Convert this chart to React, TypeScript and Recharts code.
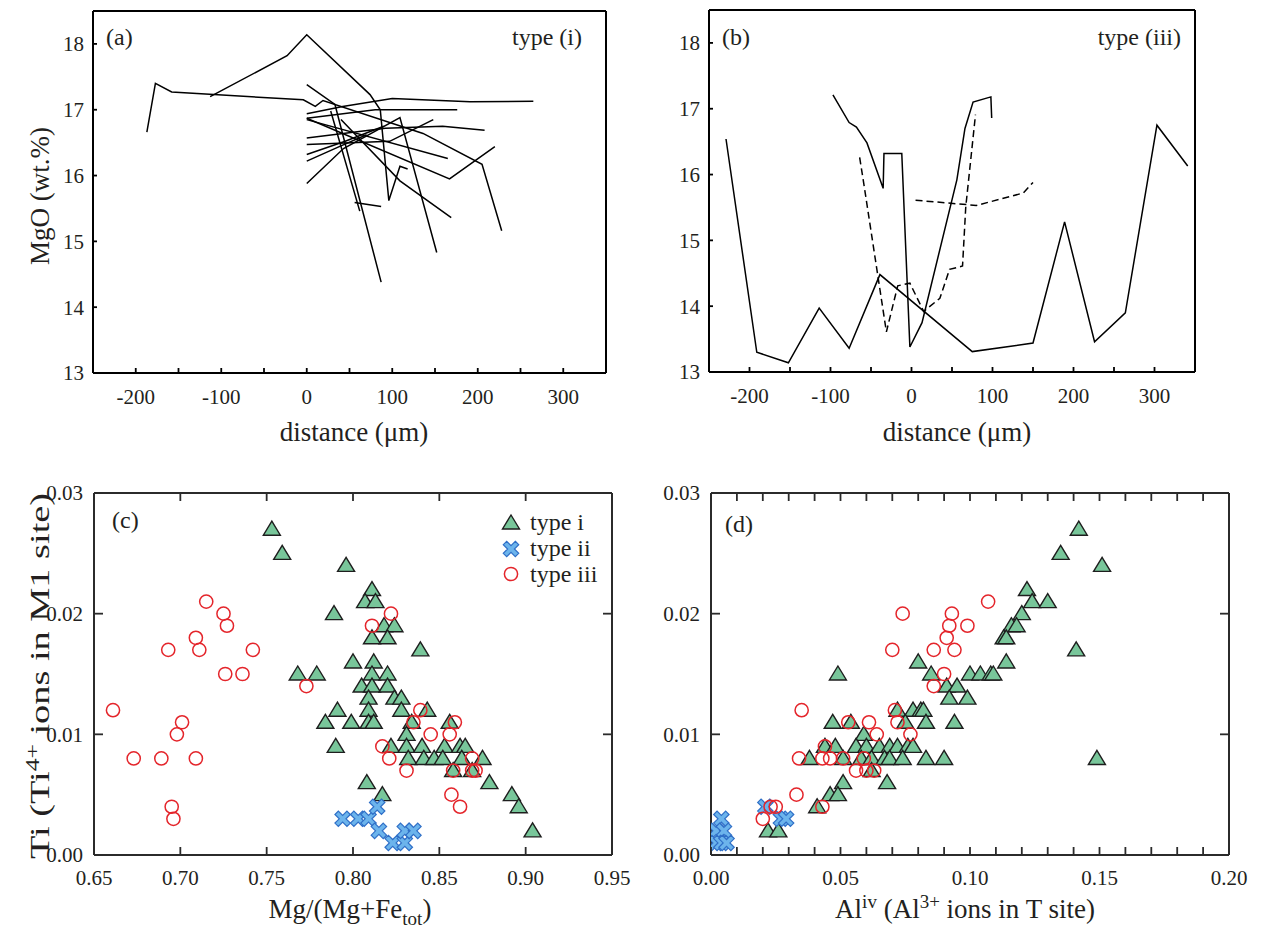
import React from 'react';
import { LineChart, Line, ScatterChart, Scatter, XAxis, YAxis } from 'recharts';

const FONT = '"Liberation Serif", "Times New Roman", Times, serif';
const INK = '#231f20';
const EDGE = '#2b2b2b';
const GREEN = '#78c69a';
const RED = '#e4252b';
const BLUE_FILL = '#6cb4ec';
const BLUE_EDGE = '#2f6fc7';

// ---- panel (a): type (i) traverses, distance (um) vs MgO (wt.%)
const trA1 = [[-187, 16.66], [-177, 17.4], [-158, 17.27], [-4, 17.15], [10, 17.05], [19, 17.14], [136, 16.64], [205, 16.17], [228, 15.16]];
const trA2 = [[-113, 17.2], [-23, 17.82], [0, 18.14], [74, 17.23], [86, 17.0], [96, 15.62], [109, 16.14], [118, 16.1]];
const trA3 = [[0, 16.94], [42, 17.05], [100, 17.17], [191, 17.12], [265, 17.13]];
const trA4 = [[0, 16.87], [80, 17.0], [176, 17.0]];
const trA5 = [[0, 17.38], [33, 17.08], [87, 14.38]];
const trA6 = [[0, 15.88], [43, 16.41], [109, 16.88], [152, 14.83]];
const trA7 = [[0, 16.57], [92, 16.72], [159, 16.75], [208, 16.69]];
const trA8 = [[0, 16.47], [97, 16.52], [148, 16.85]];
const trA9 = [[0, 16.32], [45, 16.52], [90, 16.75]];
const trA10 = [[0, 16.22], [40, 16.45], [70, 16.62]];
const trA11 = [[0, 16.87], [167, 15.95], [220, 16.44]];
const trA12 = [[0, 16.85], [165, 16.26]];
const trA13 = [[28, 16.98], [62, 15.46]];
const trA14 = [[56, 15.59], [87, 15.53]];
const trA15 = [[40, 16.85], [109, 15.92], [169, 15.36]];
const traversesA = [trA1, trA2, trA3, trA4, trA5, trA6, trA7, trA8, trA9, trA10, trA11, trA12, trA13, trA14, trA15];

// ---- panel (b): type (iii) traverses
const trB1 = [[-229, 16.54], [-191, 13.3], [-152, 13.14], [-114, 13.97], [-77, 13.36], [-39, 14.48], [75, 13.31], [150, 13.44], [189, 15.28], [226, 13.46], [264, 13.9], [303, 16.75], [341, 16.13]];
const trB2 = [[-97, 17.21], [-77, 16.79], [-68, 16.72], [-55, 16.48], [-35, 15.79], [-34, 16.32], [-12, 16.32], [-2, 13.38], [13, 13.75], [56, 15.92], [66, 16.7], [76, 17.1], [98, 17.18], [99, 16.86]];
const trB3 = [[-64, 16.26], [-59, 15.87], [-31, 13.61], [-17, 14.31], [-2, 14.35], [15, 13.92], [35, 14.12], [47, 14.56], [63, 14.61], [67, 15.51], [79, 16.91]];
const trB4 = [[5, 15.61], [80, 15.53], [138, 15.72], [150, 15.88]];

const distTicks = [-250, -200, -150, -100, -50, 0, 50, 100, 150, 200, 250, 300, 350];
const mgoTicks = [13, 14, 15, 16, 17, 18];

// ---- panel (c): Mg/(Mg+Fe_tot) vs Ti
const cTypeI = [[0.753, 0.027], [0.759, 0.025], [0.796, 0.024], [0.811, 0.022], [0.807, 0.021], [0.813, 0.021], [0.789, 0.02], [0.818, 0.019], [0.824, 0.019], [0.811, 0.018], [0.82, 0.018], [0.839, 0.017], [0.8, 0.016], [0.812, 0.016], [0.768, 0.015], [0.779, 0.015], [0.811, 0.015], [0.82, 0.015], [0.805, 0.014], [0.811, 0.014], [0.82, 0.014], [0.809, 0.013], [0.824, 0.013], [0.828, 0.013], [0.791, 0.012], [0.809, 0.012], [0.828, 0.012], [0.843, 0.012], [0.784, 0.011], [0.799, 0.011], [0.809, 0.011], [0.812, 0.011], [0.834, 0.011], [0.856, 0.011], [0.831, 0.01], [0.79, 0.009], [0.822, 0.009], [0.831, 0.009], [0.84, 0.009], [0.853, 0.009], [0.862, 0.009], [0.865, 0.009], [0.832, 0.008], [0.841, 0.008], [0.847, 0.008], [0.852, 0.008], [0.863, 0.008], [0.875, 0.008], [0.858, 0.007], [0.869, 0.007], [0.879, 0.006], [0.808, 0.006], [0.817, 0.005], [0.892, 0.005], [0.896, 0.004], [0.904, 0.002]];
const cTypeII = [[0.794, 0.003], [0.803, 0.003], [0.809, 0.003], [0.814, 0.004], [0.815, 0.002], [0.823, 0.001], [0.83, 0.001], [0.83, 0.002], [0.835, 0.002]];
const cTypeIII = [[0.715, 0.021], [0.725, 0.02], [0.727, 0.019], [0.709, 0.018], [0.711, 0.017], [0.693, 0.017], [0.742, 0.017], [0.726, 0.015], [0.736, 0.015], [0.773, 0.014], [0.661, 0.012], [0.701, 0.011], [0.698, 0.01], [0.673, 0.008], [0.689, 0.008], [0.709, 0.008], [0.695, 0.004], [0.696, 0.003], [0.811, 0.019], [0.822, 0.02], [0.839, 0.012], [0.835, 0.011], [0.845, 0.01], [0.859, 0.011], [0.856, 0.01], [0.817, 0.009], [0.821, 0.008], [0.831, 0.007], [0.858, 0.007], [0.869, 0.008], [0.869, 0.007], [0.871, 0.007], [0.857, 0.005], [0.862, 0.004]];
const mgTicks = [0.65, 0.7, 0.75, 0.8, 0.85, 0.9, 0.95];

// ---- panel (d): Al(iv) vs Ti
const dTypeI = [[0.142, 0.027], [0.135, 0.025], [0.151, 0.024], [0.122, 0.022], [0.124, 0.021], [0.13, 0.021], [0.12, 0.02], [0.116, 0.019], [0.118, 0.019], [0.113, 0.018], [0.114, 0.018], [0.141, 0.017], [0.114, 0.016], [0.08, 0.016], [0.049, 0.015], [0.085, 0.015], [0.1, 0.015], [0.104, 0.015], [0.108, 0.015], [0.109, 0.015], [0.091, 0.014], [0.095, 0.014], [0.092, 0.013], [0.099, 0.013], [0.072, 0.012], [0.078, 0.012], [0.081, 0.012], [0.082, 0.012], [0.047, 0.011], [0.054, 0.011], [0.075, 0.011], [0.083, 0.011], [0.094, 0.011], [0.059, 0.01], [0.044, 0.009], [0.048, 0.009], [0.056, 0.009], [0.06, 0.009], [0.065, 0.009], [0.069, 0.009], [0.072, 0.009], [0.076, 0.009], [0.078, 0.009], [0.038, 0.008], [0.051, 0.008], [0.058, 0.008], [0.062, 0.008], [0.067, 0.008], [0.069, 0.008], [0.074, 0.008], [0.083, 0.008], [0.09, 0.008], [0.149, 0.008], [0.062, 0.007], [0.051, 0.006], [0.068, 0.006], [0.046, 0.005], [0.049, 0.005], [0.041, 0.004], [0.022, 0.002], [0.026, 0.002]];
const dTypeII = [[0.002, 0.002], [0.004, 0.003], [0.005, 0.002], [0.002, 0.001], [0.004, 0.001], [0.006, 0.001], [0.021, 0.004], [0.027, 0.003], [0.029, 0.003]];
const dTypeIII = [[0.074, 0.02], [0.07, 0.017], [0.086, 0.017], [0.093, 0.02], [0.092, 0.019], [0.091, 0.018], [0.094, 0.017], [0.099, 0.019], [0.09, 0.015], [0.107, 0.021], [0.035, 0.012], [0.034, 0.008], [0.053, 0.011], [0.061, 0.011], [0.064, 0.01], [0.044, 0.009], [0.043, 0.008], [0.046, 0.008], [0.051, 0.008], [0.059, 0.008], [0.056, 0.007], [0.06, 0.007], [0.063, 0.007], [0.071, 0.012], [0.072, 0.011], [0.077, 0.01], [0.086, 0.014], [0.033, 0.005], [0.043, 0.004], [0.02, 0.003], [0.023, 0.004], [0.025, 0.004]];
const alTicks = [0, 0.01, 0.02, 0.03, 0.04, 0.05, 0.06, 0.07, 0.08, 0.09, 0.1, 0.11, 0.12, 0.13, 0.14, 0.15, 0.16, 0.17, 0.18, 0.19, 0.2];
const tiTicks = [0, 0.01, 0.02, 0.03];

const pts = (a: number[][]) => a.map(([x, y]) => ({ x, y }));

type Side = 'bottom' | 'top' | 'left' | 'right';
interface TickOpts {
  side: Side;
  len: number;
  color: string;
  label?: (v: number) => string | null;
  gap?: number;
  size?: number;
}

// inward tick mark + optional label; axes get tickSize 0 so (x, y) sits on the frame
function makeTick(o: TickOpts) {
  return (p: any) => {
    const { x, y, payload } = p;
    const v = payload.value as number;
    let x2 = x;
    let y2 = y;
    if (o.side === 'bottom') y2 = y - o.len;
    else if (o.side === 'top') y2 = y + o.len;
    else if (o.side === 'left') x2 = x + o.len;
    else x2 = x - o.len;
    const txt = o.label ? o.label(v) : null;
    return (
      <g>
        <line x1={x} y1={y} x2={x2} y2={y2} stroke={o.color} strokeWidth={1.8} />
        {txt !== null && o.side === 'bottom' && (
          <text x={x} y={y + (o.gap ?? 24)} textAnchor="middle" fontSize={o.size ?? 21} fontFamily={FONT} fill={INK}>
            {txt}
          </text>
        )}
        {txt !== null && o.side === 'left' && (
          <text x={x - (o.gap ?? 8)} y={y} dy="0.35em" textAnchor="end" fontSize={o.size ?? 21} fontFamily={FONT} fill={INK}>
            {txt}
          </text>
        )}
      </g>
    );
  };
}

const onStep = (v: number, step: number) => Math.abs(v / step - Math.round(v / step)) < 1e-6;
const distLabel = (v: number) => (onStep(v, 100) ? String(v) : null);
const mgoLabel = (v: number) => String(v);
const twoDp = (step: number) => (v: number) => (onStep(v, step) ? v.toFixed(2) : null);

const Tri = (p: any) => {
  const { cx, cy } = p;
  if (cx == null || cy == null) return <g />;
  return (
    <polygon
      points={`${cx},${cy - 8} ${cx - 8.5},${cy + 6} ${cx + 8.5},${cy + 6}`}
      fill={GREEN}
      stroke="#1e1e1e"
      strokeWidth={1.4}
    />
  );
};

const Ring = (p: any) => {
  const { cx, cy } = p;
  if (cx == null || cy == null) return <g />;
  return <circle cx={cx} cy={cy} r={6.6} fill="none" stroke={RED} strokeWidth={1.5} />;
};

const Cross = (p: any) => {
  const { cx, cy } = p;
  if (cx == null || cy == null) return <g />;
  const a = 2.4;
  const b = 8.5;
  const d = `M${-a},${-b}L${a},${-b}L${a},${-a}L${b},${-a}L${b},${a}L${a},${a}L${a},${b}L${-a},${b}L${-a},${a}L${-b},${a}L${-b},${-a}L${-a},${-a}Z`;
  return <path d={d} transform={`translate(${cx},${cy}) rotate(45)`} fill={BLUE_FILL} stroke={BLUE_EDGE} strokeWidth={1.2} />;
};

const none = () => <g />;

// plot box given as frame edges; each axis is 1px thick so margins are one less
const mk = (top: number, right: number, bottom: number, left: number) => ({ top: top - 1, right: right - 1, bottom: bottom - 1, left: left - 1 });

function ProfilePanel({ lines, dashed, w, h, margin }: { lines: number[][][]; dashed: boolean[]; w: number; h: number; margin: any }) {
  const frame = { stroke: '#000', strokeWidth: 2 };
  return (
    <LineChart width={w} height={h} margin={margin}>
      <XAxis xAxisId="b" type="number" dataKey="x" domain={[-250, 350]} ticks={distTicks} interval={0} allowDataOverflow
        height={1} tickSize={0} tickMargin={0} tickLine={false} axisLine={frame}
        tick={makeTick({ side: 'bottom', len: 5, color: '#000', label: distLabel, gap: 31, size: 21 })} />
      <XAxis xAxisId="t" orientation="top" type="number" dataKey="x" domain={[-250, 350]} ticks={distTicks} interval={0} allowDataOverflow
        height={1} tickSize={0} tickMargin={0} tickLine={false} axisLine={frame} tick={none} />
      <YAxis yAxisId="l" type="number" dataKey="y" domain={[13, 18.5]} ticks={mgoTicks} interval={0} allowDataOverflow
        width={1} tickSize={0} tickMargin={0} tickLine={false} axisLine={frame}
        tick={makeTick({ side: 'left', len: 4, color: '#000', label: mgoLabel, gap: 9, size: 21 })} />
      <YAxis yAxisId="r" orientation="right" type="number" dataKey="y" domain={[13, 18.5]} ticks={mgoTicks} interval={0} allowDataOverflow
        width={1} tickSize={0} tickMargin={0} tickLine={false} axisLine={frame} tick={none} />
      <Line xAxisId="t" yAxisId="r" data={[]} dataKey="y" stroke="none" dot={false} activeDot={false} isAnimationActive={false} />
      {lines.map((l, i) => (
        <Line key={i} xAxisId="b" yAxisId="l" data={pts(l)} dataKey="y" type="linear" stroke="#000" strokeWidth={1.5}
          strokeDasharray={dashed[i] ? '7 4' : undefined} dot={false} activeDot={false} isAnimationActive={false} />
      ))}
    </LineChart>
  );
}

function TiPanel({ xDomain, xTicks, xLabelStep, w, h, margin, tri, cross, ring }: any) {
  const frame = { stroke: EDGE, strokeWidth: 2 };
  return (
    <ScatterChart width={w} height={h} margin={margin}>
      <XAxis xAxisId="b" type="number" dataKey="x" domain={xDomain} ticks={xTicks} interval={0} allowDataOverflow
        height={1} tickSize={0} tickMargin={0} tickLine={false} axisLine={frame}
        tick={makeTick({ side: 'bottom', len: 8, color: EDGE, label: twoDp(xLabelStep), gap: 30, size: 21 })} />
      <XAxis xAxisId="t" orientation="top" type="number" dataKey="x" domain={xDomain} ticks={xTicks} interval={0} allowDataOverflow
        height={1} tickSize={0} tickMargin={0} tickLine={false} axisLine={frame}
        tick={makeTick({ side: 'top', len: 8, color: EDGE })} />
      <YAxis yAxisId="l" type="number" dataKey="y" domain={[0, 0.03]} ticks={tiTicks} interval={0} allowDataOverflow
        width={1} tickSize={0} tickMargin={0} tickLine={false} axisLine={frame}
        tick={makeTick({ side: 'left', len: 9, color: EDGE, label: twoDp(0.01), gap: 11, size: 21 })} />
      <YAxis yAxisId="r" orientation="right" type="number" dataKey="y" domain={[0, 0.03]} ticks={tiTicks} interval={0} allowDataOverflow
        width={1} tickSize={0} tickMargin={0} tickLine={false} axisLine={frame}
        tick={makeTick({ side: 'right', len: 9, color: EDGE })} />
      <Scatter xAxisId="t" yAxisId="r" data={[]} shape={none} isAnimationActive={false} />
      <Scatter xAxisId="b" yAxisId="l" data={pts(tri)} shape={Tri} isAnimationActive={false} />
      <Scatter xAxisId="b" yAxisId="l" data={pts(cross)} shape={Cross} isAnimationActive={false} />
      <Scatter xAxisId="b" yAxisId="l" data={pts(ring)} shape={Ring} isAnimationActive={false} />
    </ScatterChart>
  );
}

const txt = { fontFamily: FONT, fill: INK } as const;

export default function App() {
  return (
    <div style={{ position: 'absolute', left: 0, top: 0, width: 1263, height: 929, background: '#fff', overflow: 'hidden' }}>
      <div style={{ position: 'absolute', left: 0, top: 0 }}>
        <ProfilePanel lines={traversesA} dashed={traversesA.map(() => false)} w={631} h={460} margin={mk(11, 25, 87, 93)} />
      </div>
      <div style={{ position: 'absolute', left: 631, top: 0 }}>
        <ProfilePanel lines={[trB1, trB2, trB3, trB4]} dashed={[false, false, true, true]} w={632} h={460} margin={mk(10, 68, 88, 78)} />
      </div>
      <div style={{ position: 'absolute', left: 0, top: 460 }}>
        <TiPanel xDomain={[0.65, 0.95]} xTicks={mgTicks} xLabelStep={0.05} w={631} h={469}
          margin={mk(33, 19, 74, 94)} tri={cTypeI} cross={cTypeII} ring={cTypeIII} />
      </div>
      <div style={{ position: 'absolute', left: 631, top: 460 }}>
        <TiPanel xDomain={[0, 0.2]} xTicks={alTicks} xLabelStep={0.05} w={632} h={469}
          margin={mk(33, 34, 74, 80)} tri={dTypeI} cross={dTypeII} ring={dTypeIII} />
      </div>

      <svg width={1263} height={929} style={{ position: 'absolute', left: 0, top: 0, pointerEvents: 'none' }}>
        <g {...txt} fontSize={24}>
          <text x={106} y={45}>(a)</text>
          <text x={582} y={45} textAnchor="end">type (i)</text>
          <text x={722} y={45}>(b)</text>
          <text x={1181} y={45} textAnchor="end">type (iii)</text>
          <text x={112} y={528}>(c)</text>
          <text x={725} y={532}>(d)</text>
        </g>
        <g {...txt} fontSize={27}>
          <text transform="translate(40,196) rotate(-90)" textAnchor="middle" dy="0.35em">MgO (wt.%)</text>
          <text x={354} y={441} textAnchor="middle">distance (μm)</text>
          <text x={957} y={441} textAnchor="middle">distance (μm)</text>
          <text transform="translate(40,676) rotate(-90) scale(1.42,1)" textAnchor="middle" dy="0.35em">
            Ti (Ti<tspan dy={-10} fontSize={18}>4+</tspan>
            <tspan dy={10}> ions in M1 site)</tspan>
          </text>
          <text x={350} y={918} textAnchor="middle">
            Mg/(Mg+Fe<tspan dy={7} fontSize={19}>tot</tspan>
            <tspan dy={-7}>)</tspan>
          </text>
          <text x={965} y={918} textAnchor="middle">
            Al<tspan dy={-10} fontSize={19}>iv</tspan>
            <tspan dy={10}> (Al</tspan>
            <tspan dy={-10} fontSize={19}>3+</tspan>
            <tspan dy={10}> ions in T site)</tspan>
          </text>
        </g>
        <g>
          <Tri cx={511} cy={523} />
          <Cross cx={511} cy={549} />
          <Ring cx={511} cy={574} />
        </g>
        <g {...txt} fontSize={24}>
          <text x={530} y={530}>type i</text>
          <text x={530} y={556}>type ii</text>
          <text x={530} y={582}>type iii</text>
        </g>
      </svg>
    </div>
  );
}
